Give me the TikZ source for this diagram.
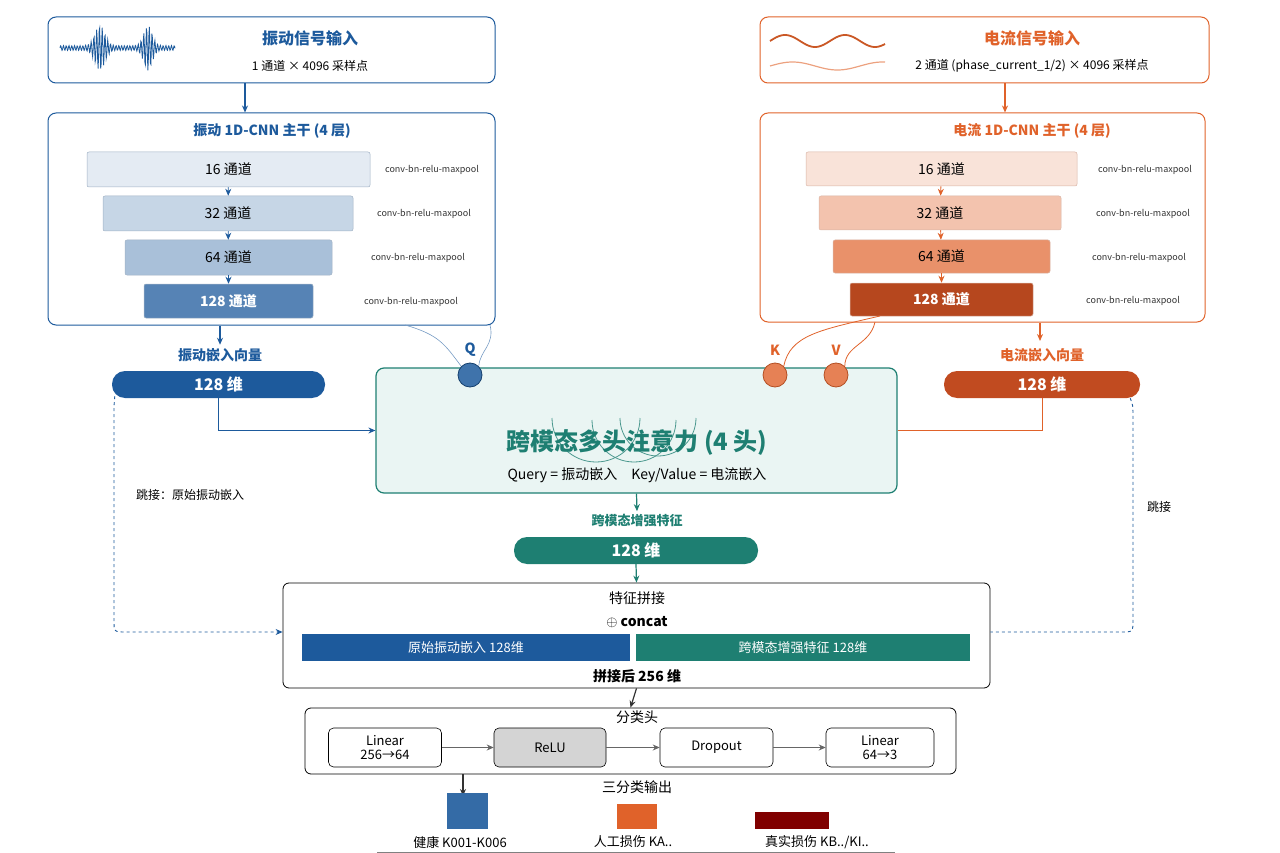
\documentclass[tikz,border=0pt]{standalone}
\usepackage{fontspec}
\setmainfont{Noto Sans CJK SC}
\usetikzlibrary{arrows.meta,positioning}
\definecolor{vib}{HTML}{1D5A9C}
\definecolor{cur}{HTML}{E0622A}
\definecolor{att}{HTML}{1E7F72}
\definecolor{attbg}{HTML}{EAF5F3}
\tikzset{
  box/.style={draw=#1,rounded corners=8pt,line width=1pt},
  layer/.style={draw=#1!70!black!40,rounded corners=2pt,line width=0.5pt,font=\fontsize{14}{16}\selectfont},
  pill/.style={rounded corners=13pt,fill=#1,text=white,font=\bfseries\fontsize{16}{18}\selectfont},
  op/.style={draw,rounded corners=5pt,minimum width=113pt,minimum height=39pt,align=center,font=\fontsize{13}{14}\selectfont,line width=0.6pt},
  conv/.style={font=\fontsize{9}{10}\selectfont,text=black!80},
  arr/.style={-{Stealth[length=7pt,width=6pt]},line width=1.2pt},
  port/.style={circle,minimum size=24pt,inner sep=0pt,line width=0.8pt}
}
\begin{document}
\begin{tikzpicture}[x=1pt,y=-1pt]
  \useasboundingbox (0,0) rectangle (1280,853);
  % vibration branch
  \node[box=vib,minimum width=447pt,minimum height=66pt] (vin) at (271.5,50) {};
  \node[text=vib,font=\bfseries\fontsize{16}{18}\selectfont] at (310,38) {振动信号输入};
  \node[font=\fontsize{12}{14}\selectfont] at (310,66) {1 通道 × 4096 采样点};
  \draw[vib,line width=0.8pt] plot[domain=0:115,samples=230] ({60+\x},{48-20*(exp(-((\x-40)/7)^2)+exp(-((\x-88)/6)^2)+0.12)*sin(\x*130)});
  \node[box=vib,minimum width=447pt,minimum height=212pt] (vcnn) at (271.5,219) {};
  \node[text=vib,font=\bfseries\fontsize{14}{16}\selectfont] at (272,131) {振动 1D-CNN 主干 (4 层)};
  \node[layer=vib,fill=vib!12,minimum width=283pt,minimum height=35pt] (v1) at (228.5,169.5) {16 通道};
  \node[layer=vib,fill=vib!25,minimum width=250pt,minimum height=35pt] (v2) at (228,213.5) {32 通道};
  \node[layer=vib,fill=vib!38,minimum width=207pt,minimum height=35pt] (v3) at (228.5,257.5) {64 通道};
  \node[layer=vib,fill=vib!75,text=white,font=\bfseries\fontsize{14}{16}\selectfont,minimum width=169pt,minimum height=34pt] (v4) at (228.5,301) {128 通道};
  \node[conv] at (432,170) {conv-bn-relu-maxpool};
  \node[conv] at (424,214) {conv-bn-relu-maxpool};
  \node[conv] at (418,258) {conv-bn-relu-maxpool};
  \node[conv] at (411,302) {conv-bn-relu-maxpool};
  \draw[arr,vib,line width=0.8pt] (v1) -- (v2);
  \draw[arr,vib,line width=0.8pt] (v2) -- (v3);
  \draw[arr,vib,line width=0.8pt] (v3) -- (v4);
  \draw[arr,vib] (vin.south -| 245,0) -- (vcnn.north -| 245,0);
  \node[text=vib,font=\bfseries\fontsize{14}{16}\selectfont] (vlab) at (220,355) {振动嵌入向量};
  \draw[arr,vib] (vcnn.south -| vlab) -- (vlab.north);
  \node[pill=vib,minimum width=213pt,minimum height=27pt] (vemb) at (218.5,384.5) {128 维};
  % current branch
  \node[box=cur,minimum width=449pt,minimum height=66pt] (cin) at (984.5,50) {};
  \node[text=cur,font=\bfseries\fontsize{16}{18}\selectfont] at (1032,38) {电流信号输入};
  \node[font=\fontsize{12}{14}\selectfont] at (1032,66) {2 通道 (phase\_current\_1/2) × 4096 采样点};
  \draw[cur!90!black,line width=1.8pt] plot[domain=770:885,samples=80] (\x,{41-6*sin((\x-770)*6)});
  \draw[cur!60,line width=1.2pt] plot[domain=770:885,samples=80] (\x,{66-4*sin((\x-770)*4)});
  \node[box=cur,minimum width=445pt,minimum height=209pt] (ccnn) at (982.5,217.5) {};
  \node[text=cur,font=\bfseries\fontsize{14}{16}\selectfont] at (1032,131) {电流 1D-CNN 主干 (4 层)};
  \node[layer=cur,fill=cur!18,minimum width=271pt,minimum height=34pt] (c1) at (941.5,169) {16 通道};
  \node[layer=cur,fill=cur!38,minimum width=242pt,minimum height=34pt] (c2) at (940,213) {32 通道};
  \node[layer=cur,fill=cur!70,minimum width=217pt,minimum height=33pt] (c3) at (941.5,256.5) {64 通道};
  \node[layer=cur,fill=cur!90!red!80!black,text=white,font=\bfseries\fontsize{14}{16}\selectfont,minimum width=183pt,minimum height=33pt] (c4) at (941.5,299.5) {128 通道};
  \node[conv] at (1145,170) {conv-bn-relu-maxpool};
  \node[conv] at (1143,214) {conv-bn-relu-maxpool};
  \node[conv] at (1139,258) {conv-bn-relu-maxpool};
  \node[conv] at (1133,301) {conv-bn-relu-maxpool};
  \draw[arr,cur,line width=0.8pt] (c1) -- (c2);
  \draw[arr,cur,line width=0.8pt] (c2) -- (c3);
  \draw[arr,cur,line width=0.8pt] (c3) -- (c4);
  \draw[arr,cur] (cin.south -| 1005,0) -- (ccnn.north -| 1005,0);
  \node[text=cur,font=\bfseries\fontsize{14}{16}\selectfont] (clab) at (1042,355) {电流嵌入向量};
  \draw[arr,cur] (ccnn.south -| 1040,0) -- (1040,341);
  \node[pill=cur!90!red!85!black,minimum width=196pt,minimum height=27pt] (cemb) at (1042,384.5) {128 维};
  % attention
  \node[draw=att,fill=attbg,rounded corners=8pt,line width=1.2pt,minimum width=521pt,minimum height=125pt] (attn) at (636.5,430.5) {};
  \draw[att!80,line width=0.8pt] (552,418) arc[start angle=180,end angle=0,radius=44];
  \draw[att!80,line width=0.8pt] (592,420) arc[start angle=180,end angle=0,radius=42];
  \draw[att!80,line width=0.8pt] (620,418) arc[start angle=180,end angle=0,radius=38];
  \node[text=att,font=\bfseries\fontsize{24}{26}\selectfont] at (637,443) {跨模态多头注意力 (4 头)};
  \node[font=\fontsize{14}{16}\selectfont] at (637,475) {Query = 振动嵌入\quad Key/Value = 电流嵌入};
  \node[port,draw=vib!70!black,fill=vib!85] (q) at (470,375) {};
  \node[port,draw=cur!80!black,fill=cur!80] (k) at (775,375) {};
  \node[port,draw=cur!80!black,fill=cur!80] (v) at (836,375) {};
  \node[text=vib,font=\bfseries\fontsize{14}{16}\selectfont] at (470,350) {Q};
  \node[text=cur,font=\bfseries\fontsize{14}{16}\selectfont] at (775,350) {K};
  \node[text=cur,font=\bfseries\fontsize{14}{16}\selectfont] at (836,350) {V};
  \draw[vib!60,line width=0.6pt] (405,325) .. controls (440,335) and (445,345) .. (q.north west);
  \draw[vib!60,line width=0.6pt] (490,325) .. controls (495,345) and (480,350) .. (q.north east);
  \draw[cur,line width=0.8pt] (880,316) .. controls (820,330) and (790,335) .. (k.north east);
  \draw[cur,line width=0.8pt] (875,322) .. controls (870,345) and (845,345) .. (v.north east);
  \draw[arr,vib] (vemb.south) |- (attn.west);
  \draw[cur,line width=1pt] (attn.east) -| (cemb.south);
  % fusion
  \node[text=att,font=\bfseries\fontsize{13}{15}\selectfont] (flab) at (637,521) {跨模态增强特征};
  \draw[arr,att] (attn.south) -- (flab.north);
  \node[pill=att,minimum width=244pt,minimum height=27pt] (femb) at (636,550.5) {128 维};
  \node[draw,rounded corners=6pt,line width=0.8pt,minimum width=707pt,minimum height=105pt] (cat) at (636.5,635.5) {};
  \draw[arr,att] (femb.south) -- (cat.north);
  \node[font=\fontsize{14}{16}\selectfont] at (637,598) {特征拼接};
  \node[font=\bfseries\fontsize{14}{16}\selectfont] at (637,622) {$\oplus$ concat};
  \node[fill=vib,text=white,minimum width=328pt,minimum height=27pt,font=\fontsize{13}{15}\selectfont] (bv) at (466,647.5) {原始振动嵌入 128维};
  \node[fill=att,text=white,minimum width=334pt,minimum height=27pt,font=\fontsize{13}{15}\selectfont] (bf) at (803,647.5) {跨模态增强特征 128维};
  \node[font=\bfseries\fontsize{14}{16}\selectfont] at (637,676) {拼接后 256 维};
  % skip connections
  \draw[arr,vib,dashed,line width=0.9pt] (vemb.south west) ++(3,-2) .. controls (114,405) .. (114,420) -- (114,620) .. controls (114,632) .. (126,632) -- (cat.west |- 0,632);
  \draw[vib,dashed,line width=0.9pt] (cemb.south east) ++(-10,0) .. controls (1133,405) .. (1133,420) -- (1133,620) .. controls (1133,632) .. (1121,632) -- (cat.east |- 0,632);
  \node[font=\fontsize{12}{14}\selectfont] at (190,495) {跳接：原始振动嵌入};
  \node[font=\fontsize{12}{14}\selectfont] at (1159,507) {跳接};
  % head
  \node[draw,rounded corners=6pt,line width=0.8pt,minimum width=651pt,minimum height=66pt] (head) at (630.5,741) {};
  \draw[arr,black!80] (cat.south) -- (head.north);
  \node[font=\fontsize{14}{16}\selectfont] at (637,717) {分类头};
  \node[op] (l1) at (385,747.5) {Linear\\256→64};
  \node[op,fill=black!17,minimum width=112pt] (relu) at (550,747.5) {ReLU};
  \node[op] (drop) at (716.5,747.5) {Dropout};
  \node[op,minimum width=108pt] (l2) at (880,747.5) {Linear\\64→3};
  \draw[arr,black!60,line width=0.7pt] (l1) -- (relu);
  \draw[arr,black!60,line width=0.7pt] (relu) -- (drop);
  \draw[arr,black!60,line width=0.7pt] (drop) -- (l2);
  \coordinate (out) at (463,796);
  \draw[arr,black!80] (head.south -| out) -- (out);
  \node[font=\fontsize{14}{16}\selectfont] at (637,787) {三分类输出};
  \node[fill=vib!90,minimum width=41pt,minimum height=36pt] (o1) at (467.5,811) {};
  \node[fill=cur,minimum width=40pt,minimum height=25pt] (o2) at (637,816.5) {};
  \node[fill=red!50!black,minimum width=74pt,minimum height=17pt] (o3) at (792,820.5) {};
  \node[font=\fontsize{13}{15}\selectfont] at (460,842) {健康 K001-K006};
  \node[font=\fontsize{13}{15}\selectfont] at (633,842) {人工损伤 KA..};
  \node[font=\fontsize{13}{15}\selectfont] at (817,842) {真实损伤 KB../KI..};
  \draw[black!50,line width=0.6pt] (377,852) -- (895,852);
\end{tikzpicture}
\end{document}
